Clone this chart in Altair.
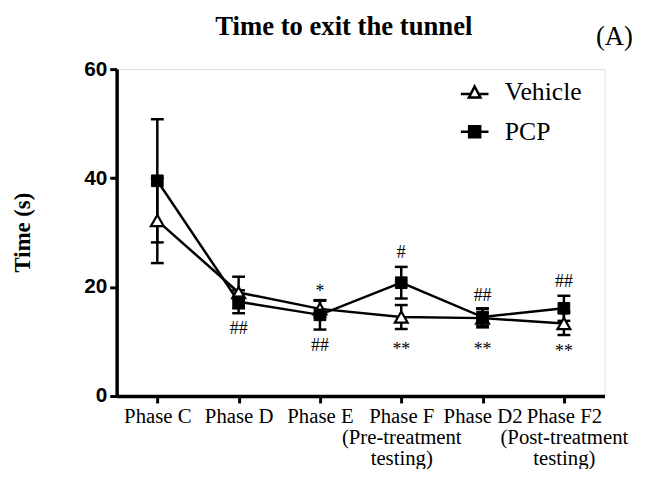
import altair as alt
import pandas as pd

phases = ["Phase C", "Phase D", "Phase E", "Phase F", "Phase D2", "Phase F2"]
phase_labels = ["Phase C", "Phase D", "Phase E",
                "Phase F\n(Pre-treatment\ntesting)", "Phase D2",
                "Phase F2\n(Post-treatment\ntesting)"]
series = ["Vehicle", "PCP"]

vehicle_mean = [32.2, 19.0, 16.0, 14.5, 14.3, 13.3]
vehicle_sem = [7.8, 2.9, 1.5, 2.2, 1.7, 2.1]
pcp_mean = [39.5, 17.3, 14.9, 20.8, 14.5, 16.1]
pcp_sem = [11.3, 2.1, 2.7, 2.9, 1.6, 2.3]

anno_phase = ["Phase D", "Phase E", "Phase E", "Phase F", "Phase F",
              "Phase D2", "Phase D2", "Phase F2", "Phase F2"]
anno_text = ["##", "*", "##", "#", "**", "##", "**", "##", "**"]
anno_y = [12.3, 19.0, 9.2, 26.3, 8.5, 18.4, 8.5, 20.9, 8.0]

rows = []
for name, means, sems in [("Vehicle", vehicle_mean, vehicle_sem), ("PCP", pcp_mean, pcp_sem)]:
    for p, m, s in zip(phases, means, sems):
        rows.append({"series": name, "phase": p, "mean": m, "lo": m - s, "hi": m + s})
df = pd.DataFrame(rows)
anno = pd.DataFrame({"phase": anno_phase, "text": anno_text, "y": anno_y})

label_map = "{" + ", ".join(
    "'%s': %s" % (p, "[" + ", ".join("'%s'" % s for s in l.split("\n")) + "]")
    for p, l in zip(phases, phase_labels)) + "}"

SERIF = "Liberation Serif"

x_enc = alt.X(
    "phase:N", sort=phases,
    scale=alt.Scale(type="point", padding=0.5, domain=phases),
    axis=alt.Axis(title=None, labelAngle=0, labelFont=SERIF,
                  labelFontSize=21, labelColor="black", labelPadding=3,
                  labelLineHeight=21, tickSize=7, tickWidth=3, tickColor="black",
                  domainWidth=3.5, domainColor="black",
                  labelExpr=label_map + "[datum.value]"),
)
y_scale = alt.Scale(domain=[0, 60], nice=False, zero=True)
y_axis = alt.Axis(values=[0, 20, 40, 60], title="Time (s)", grid=False,
                  labelFont="Liberation Sans", labelFontWeight="bold",
                  labelFontSize=21, labelColor="black", labelPadding=3,
                  tickSize=7, tickWidth=3, tickColor="black",
                  domainWidth=3.5, domainColor="black",
                  titleFont=SERIF, titleFontSize=23,
                  titleFontWeight="bold", titleColor="black",
                  titleX=-95, titleY=165, titleAlign="center",
                  titleBaseline="middle", titleAngle=-90)

base = alt.Chart(df)

lines = base.mark_line(color="black", strokeWidth=2.5).encode(
    x=x_enc, y=alt.Y("mean:Q", scale=y_scale, axis=y_axis), detail="series:N")
rules = base.mark_rule(color="black", strokeWidth=2.5).encode(
    x=x_enc, y="lo:Q", y2="hi:Q")
cap_lo = base.mark_tick(color="black", thickness=2.5, size=13, opacity=1).encode(
    x=x_enc, y="lo:Q")
cap_hi = base.mark_tick(color="black", thickness=2.5, size=13, opacity=1).encode(
    x=x_enc, y="hi:Q")
veh_pts = base.transform_filter(alt.datum.series == "Vehicle").mark_point(
    shape="triangle-up", filled=True, fill="white", stroke="black",
    strokeWidth=2.2, size=170, opacity=1).encode(x=x_enc, y="mean:Q")
pcp_pts = base.transform_filter(alt.datum.series == "PCP").mark_point(
    shape="square", filled=True, fill="black", stroke="black",
    strokeWidth=1, size=140, opacity=1).encode(x=x_enc, y="mean:Q")

tri_path = "M-1,0.12H-0.3M0.3,0.12H1M0,-0.42L0.42,0.38L-0.42,0.38Z"
sq_path = "M-1,0H1M-0.4,-0.4H0.4V0.4H-0.4Z"
leg = alt.Legend(title=None, orient="none", legendX=347, legendY=8,
                 symbolSize=784, symbolStrokeWidth=2.5,
                 labelFont=SERIF, labelFontSize=26,
                 labelColor="black", labelOffset=15, rowPadding=11, padding=0,
                 labelLimit=300)
legend_layer = base.transform_filter("false").mark_point(
    filled=True, strokeWidth=2.5, opacity=1).encode(
    x=x_enc, y="mean:Q",
    shape=alt.Shape("series:N", scale=alt.Scale(domain=series, range=[tri_path, sq_path]), legend=leg),
    fill=alt.Fill("series:N", scale=alt.Scale(domain=series, range=["white", "black"]), legend=leg),
    stroke=alt.Stroke("series:N", scale=alt.Scale(domain=series, range=["black", "black"]), legend=leg),
)

annos = alt.Chart(anno).mark_text(font=SERIF, fontSize=18,
                                  color="black", baseline="middle").encode(
    x=x_enc, y="y:Q", text="text:N")

texts = alt.Chart(pd.DataFrame({"t": ["(A)"]}))
panel = texts.mark_text(
    font=SERIF, fontSize=27, color="black", align="center",
    baseline="alphabetic").encode(x=alt.value(504), y=alt.value(-24), text="t:N")
title = texts.mark_text(
    font=SERIF, fontSize=27, fontWeight="bold", color="black", align="center",
    baseline="alphabetic").encode(x=alt.value(230), y=alt.value(-35),
                                  text=alt.value("Time to exit the tunnel"))

chart = alt.layer(lines, rules, cap_lo, cap_hi, veh_pts, pcp_pts, legend_layer,
                  annos, panel, title).properties(
    width=494, height=331,
    autosize=alt.AutoSizeParams(type="none"),
    padding={"left": 110, "top": 59, "right": 45, "bottom": 71},
).configure_view(stroke=None).configure(background="white")

chart.save("out.html", embed_options={"renderer": "svg", "actions": False})
